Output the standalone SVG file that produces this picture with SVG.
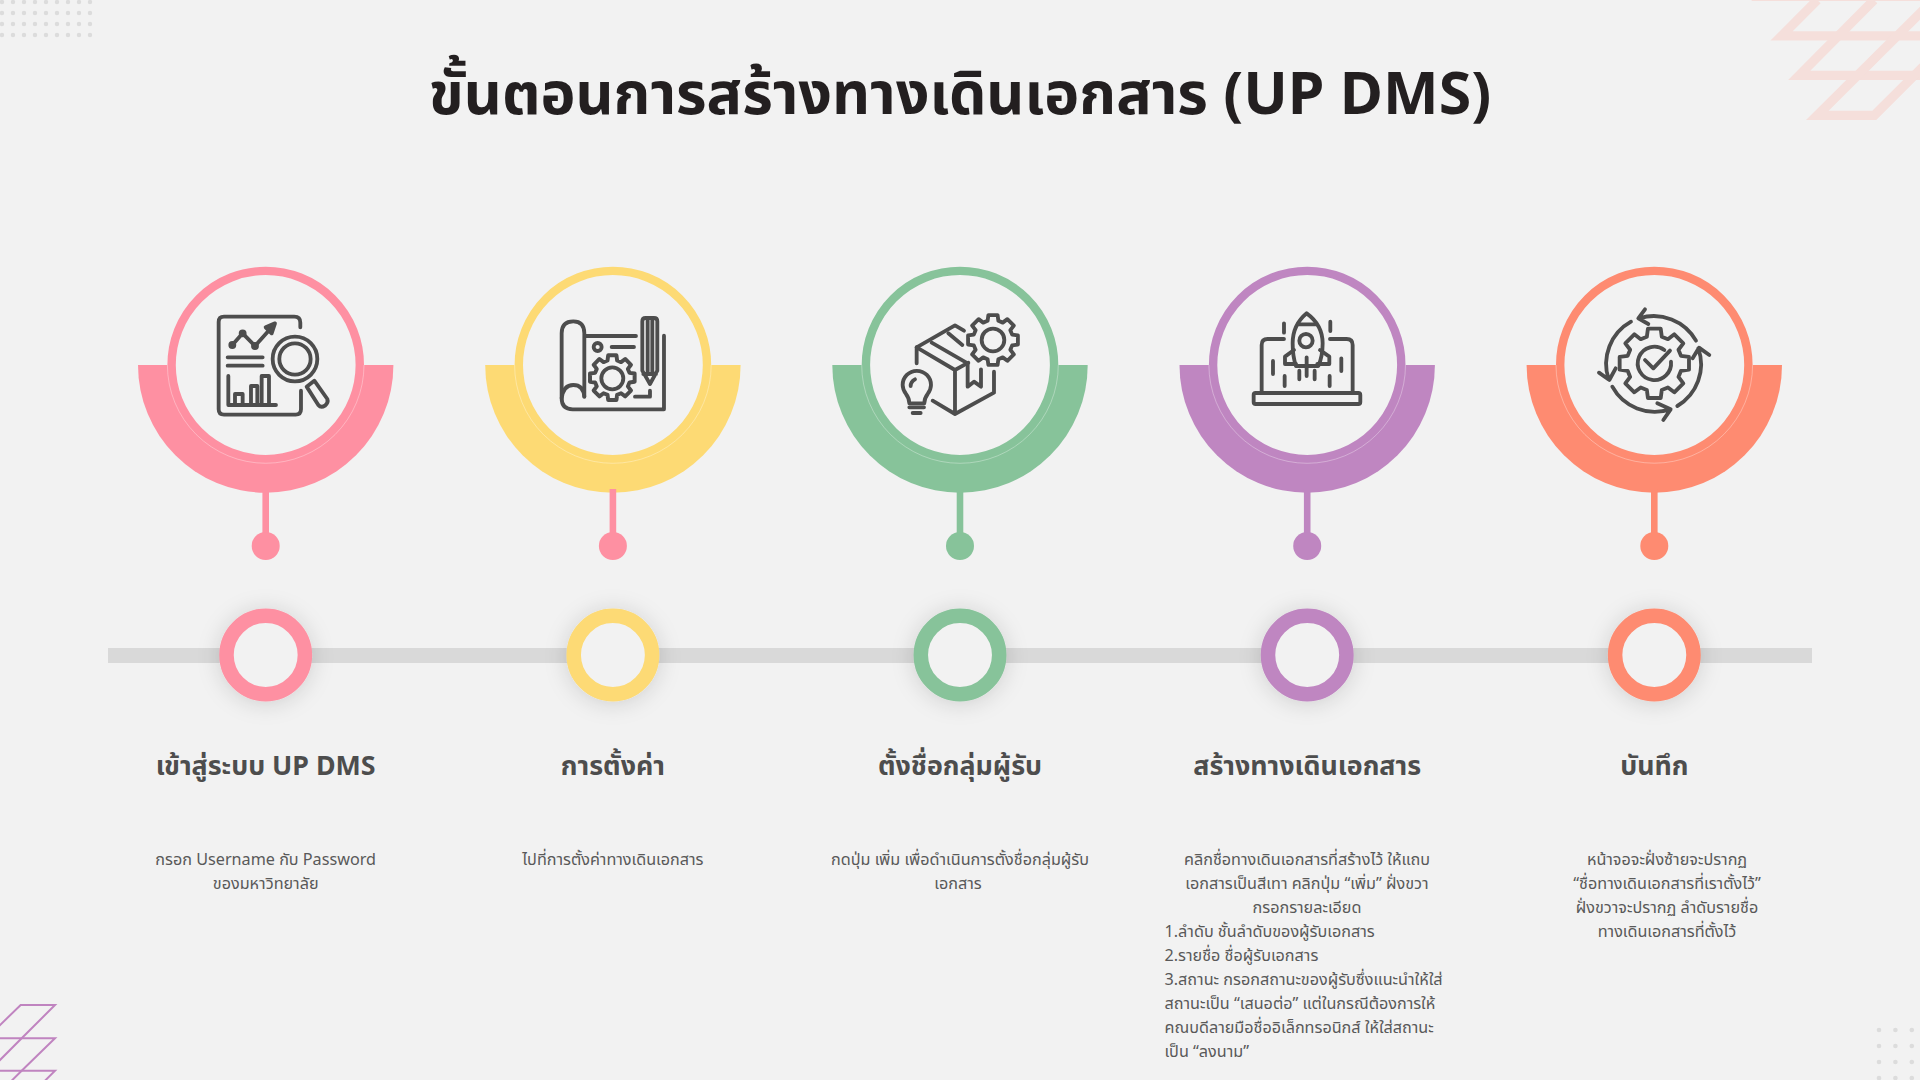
<svg xmlns="http://www.w3.org/2000/svg" xmlns:xlink="http://www.w3.org/1999/xlink" width="1920" height="1080" viewBox="0 0 1920 1080">
<style>
text{font-family:"Noto Sans","Noto Sans Thai","Noto Sans CJK SC",sans-serif}
.title{font-size:59px;font-weight:700;fill:#231f20;text-anchor:middle}
.head{font-size:26.8px;font-weight:700;fill:#4d4d4d;text-anchor:middle}
.desc{font-size:16.2px;fill:#595959;text-anchor:middle}
.left{text-anchor:start}
.ic{fill:none;stroke:#4d4d4d;stroke-width:11.5;stroke-linecap:round;stroke-linejoin:round}
.pk{fill:#fe90a2}.ye{fill:#fdda74}.gr{fill:#87c39a}.pu{fill:#bf86c1}.or{fill:#fe8b71}
.spk{stroke:#fe90a2}.sye{stroke:#fdda74}.sgr{stroke:#87c39a}.spu{stroke:#bf86c1}.sor{stroke:#fe8b71}
.ring{fill:#f2f2f2;stroke-width:8.4}
.hair{fill:none;stroke:#fff;stroke-opacity:.55;stroke-width:.6}
.stem{stroke-width:6.6;fill:none}
.mk{fill:#f2f2f2;stroke-width:14.5;filter:url(#sh)}
</style>
<defs>
<filter id="sh" x="-60%" y="-60%" width="220%" height="220%"><feDropShadow dx="0" dy="2" stdDeviation="11" flood-color="#000" flood-opacity=".15"/></filter>
<path id="gear" d="M-14,-50L-12,-65H12L14,-50L25.5,-45.3L37.5,-54.4L54.4,-37.5L45.3,-25.5L50,-14L65,-12V12L50,14L45.3,25.5L54.4,37.5L37.5,54.4L25.5,45.3L14,50L12,65H-12L-14,50L-25.5,45.3L-37.5,54.4L-54.4,37.5L-45.3,25.5L-50,14L-65,12V-12L-50,-14L-45.3,-25.5L-54.4,-37.5L-37.5,-54.4L-25.5,-45.3Z"/>
<path id="half" d="M-127.7,0A127.7,127.7 0 0 0 127.7,0Z"/>
</defs>
<rect width="1920" height="1080" fill="#f2f2f2"/>

<g id="decor">
<path d="M2,2H91M2,13H91M2,24H91M2,35H91" fill="none" stroke="#dcdcdc" stroke-width="4.4" stroke-linecap="round" stroke-dasharray="0 11"/>
<path d="M1879,1030H1915M1879,1046H1915M1879,1062H1915M1879,1078H1915" fill="none" stroke="#dcdcdc" stroke-width="4.6" stroke-linecap="round" stroke-dasharray="0 16.4"/>
<g transform="translate(1700,0) scale(.3333)" fill="none" stroke="#f5dfdb" stroke-width="28">
<path d="M155,-11H700"/>
<path d="M680,107.5H245L352,0"/>
<path d="M680,226H298L522,0"/>
<path d="M700,0L352,346H523L870,0"/>
</g>
<g transform="translate(0,980) scale(.3333)" fill="none" stroke="#c084c0" stroke-width="6">
<path d="M-5,140L62,75H165L65,175L-5,245"/>
<path d="M-5,175H165L65,272L35,302"/>
<path d="M-5,272H165L135,302"/>
</g>
</g>

<text class="title" x="960" y="114">ขั้นตอนการสร้างทางเดินเอกสาร (UP DMS)</text>

<g id="step1">
<use href="#half" x="265.7" y="365" class="pk"/>
<circle cx="265.7" cy="365" r="94.1" class="ring spk"/>
<path class="hair" d="M167.4,365A98.3,98.3 0 0 0 364,365"/>
<g class="ic" transform="translate(120,250) scale(.3333)">
<path d="M541,232V218Q541,200 523,200H312Q296,200 296,216V478Q296,494 312,494H527Q543,494 543,478V422"/>
<path d="M337,285L368,250L405,288L450,238"/>
<path d="M465,220L437,232L455,250Z" fill="#4d4d4d"/>
<circle cx="337" cy="285" r="6" fill="#4d4d4d"/><circle cx="368" cy="250" r="6" fill="#4d4d4d"/><circle cx="405" cy="288" r="6" fill="#4d4d4d"/>
<path d="M323,322H428M323,347H428"/>
<path d="M325,378V465H468M345,462V432H368V462M393,462V408H412V462M425,462V378H447V462"/>
<circle cx="525" cy="327" r="67"/><circle cx="525" cy="327" r="47"/>
<path d="M560,410L583,392L622,447Q626,458 615,467Q603,475 595,465Z"/>
</g>
</g>
<g id="step2">
<use href="#half" x="612.9" y="365" class="ye"/>
<circle cx="612.9" cy="365" r="94.1" class="ring sye"/>
<path class="hair" d="M514.6,365A98.3,98.3 0 0 0 711.2,365"/>
<g class="ic" transform="translate(470,250) scale(.3333)">
<path d="M343,440V250Q343,214 310,214Q275,214 275,250V445Q275,478 308,478H582V257"/>
<path d="M275,445Q280,405 310,405Q340,405 343,440"/>
<path d="M345,258H498M425,291H492"/>
<circle cx="383" cy="291" r="12"/>
<use href="#gear" transform="translate(427,383) scale(1.03)"/>
<circle cx="427" cy="385" r="33"/>
<path d="M517,362V214Q517,204 527,204H552Q562,204 562,214V362L540,402ZM533,207V365M547,207V365M520,372H558"/>
<path d="M495,440H540V422"/>
</g>
</g>
<g id="step3">
<use href="#half" x="960" y="365" class="gr"/>
<circle cx="960" cy="365" r="94.1" class="ring sgr"/>
<path class="hair" d="M861.7,365A98.3,98.3 0 0 0 1058.3,365"/>
<g class="ic" transform="translate(820,250) scale(.3333)">
<path d="M290,340V292L405,226L432,242"/>
<path d="M290,292L405,360V492L338,452M405,360L445,338M405,492L522,428V365"/>
<path d="M335,278L443,340M385,250L427,285"/>
<path d="M443,340V410L462,395L483,410V358"/>
<use href="#gear" transform="translate(519,270) scale(1.15)" style="stroke-width:10"/>
<circle cx="519" cy="270" r="34"/>
<path d="M268,460Q268,445 258,432Q248,418 248,405A42,42 0 0 1 333,405Q333,418 323,432Q313,445 313,460Z"/>
<path d="M268,472H312M278,489H302M272,408Q272,395 285,388"/>
</g>
</g>
<g id="step4">
<use href="#half" x="1307.2" y="365" class="pu"/>
<circle cx="1307.2" cy="365" r="94.1" class="ring spu"/>
<path class="hair" d="M1208.9,365A98.3,98.3 0 0 0 1405.5,365"/>
<g class="ic" transform="translate(1170,250) scale(.3333)">
<path d="M275,425V285Q275,267 293,267H342M480,267H530Q548,267 548,285V425"/>
<rect x="251" y="429" width="320" height="33" rx="6"/>
<path d="M410,190Q368,225 368,280Q368,320 378,348H445Q458,320 458,280Q458,225 410,190Z"/>
<path d="M385,223H437"/>
<circle cx="408" cy="272" r="20"/>
<path d="M372,300L345,320V342H378M450,300L478,320V342H442"/>
<path d="M410,322V378M388,362V388M434,362V388M342,220V248M481,215V243M309,333V372M514,325V363M344,378V408M479,378V408"/>
</g>
</g>
<g id="step5">
<use href="#half" x="1654.3" y="365" class="or"/>
<circle cx="1654.3" cy="365" r="94.1" class="ring sor"/>
<path class="hair" d="M1556,365A98.3,98.3 0 0 0 1752.6,365"/>
<g class="ic" transform="translate(1520,250) scale(.3333)">
<path d="M528,272A145,145 0 0 0 358,205M375,178L355,205L385,222"/>
<path d="M472,468A145,145 0 0 0 535,295M518,325L537,293L568,315"/>
<path d="M277,410A145,145 0 0 0 450,478M412,460L452,478L430,510"/>
<path d="M333,215A145,145 0 0 0 266,388M237,368L268,390L287,355"/>
<use href="#gear" transform="translate(403,340) scale(1.6)" style="stroke-width:7.2"/>
<path d="M433,300A50,50 0 1 0 453,335"/>
<path d="M450,302L400,355L375,330"/>
</g>
</g>

<g id="connectors">
<rect x="108" y="648" width="1704" height="15" fill="#d9d9d9"/>
<path class="stem spk" d="M265.7,489V546"/>
<path class="stem spk" d="M612.9,489V546"/>
<path class="stem sgr" d="M960,489V546"/>
<path class="stem spu" d="M1307.2,489V546"/>
<path class="stem sor" d="M1654.3,489V546"/>
</g>

<g id="step1-marker"><circle cx="265.7" cy="546" r="14" class="pk"/><circle cx="265.7" cy="655" r="39.2" class="mk spk"/></g>
<g id="step2-marker"><circle cx="612.9" cy="546" r="14" class="pk"/><circle cx="612.9" cy="655" r="39.2" class="mk sye"/></g>
<g id="step3-marker"><circle cx="960" cy="546" r="14" class="gr"/><circle cx="960" cy="655" r="39.2" class="mk sgr"/></g>
<g id="step4-marker"><circle cx="1307.2" cy="546" r="14" class="pu"/><circle cx="1307.2" cy="655" r="39.2" class="mk spu"/></g>
<g id="step5-marker"><circle cx="1654.3" cy="546" r="14" class="or"/><circle cx="1654.3" cy="655" r="39.2" class="mk sor"/></g>

<g id="step1-label">
<text class="head" x="265.7" y="775">เข้าสู่ระบบ UP DMS</text>
<text class="desc" x="265.7" y="865.4">กรอก Username กับ Password</text>
<text class="desc" x="265.7" y="889.4">ของมหาวิทยาลัย</text>
</g>
<g id="step2-label">
<text class="head" x="612.9" y="775">การตั้งค่า</text>
<text class="desc" x="612.9" y="865.4">ไปที่การตั้งค่าทางเดินเอกสาร</text>
</g>
<g id="step3-label">
<text class="head" x="960" y="775">ตั้งชื่อกลุ่มผู้รับ</text>
<text class="desc" x="960" y="865.4">กดปุ่ม เพิ่ม เพื่อดำเนินการตั้งชื่อกลุ่มผู้รับ</text>
<text class="desc" x="958" y="889.4">เอกสาร</text>
</g>
<g id="step4-label">
<text class="head" x="1307.2" y="775">สร้างทางเดินเอกสาร</text>
<text class="desc" x="1307" y="865.4">คลิกชื่อทางเดินเอกสารที่สร้างไว้ ให้แถบ</text>
<text class="desc" x="1307" y="889.4">เอกสารเป็นสีเทา คลิกปุ่ม “เพิ่ม” ฝั่งขวา</text>
<text class="desc" x="1307" y="913.4">กรอกรายละเอียด</text>
<text class="desc left" x="1164.5" y="937.4">1.ลำดับ ชั้นลำดับของผู้รับเอกสาร</text>
<text class="desc left" x="1164.5" y="961.4">2.รายชื่อ ชื่อผู้รับเอกสาร</text>
<text class="desc left" x="1164.5" y="985.4">3.สถานะ กรอกสถานะของผู้รับซึ่งแนะนำให้ใส่</text>
<text class="desc left" x="1164.5" y="1009.4">สถานะเป็น “เสนอต่อ” แต่ในกรณีต้องการให้</text>
<text class="desc left" x="1164.5" y="1033.4">คณบดีลายมือชื่ออิเล็กทรอนิกส์ ให้ใส่สถานะ</text>
<text class="desc left" x="1164.5" y="1057.4">เป็น “ลงนาม”</text>
</g>
<g id="step5-label">
<text class="head" x="1654.3" y="775">บันทึก</text>
<text class="desc" x="1667" y="865.4">หน้าจอจะฝั่งซ้ายจะปรากฏ</text>
<text class="desc" x="1667" y="889.4">“ชื่อทางเดินเอกสารที่เราตั้งไว้”</text>
<text class="desc" x="1667" y="913.4">ฝั่งขวาจะปรากฏ ลำดับรายชื่อ</text>
<text class="desc" x="1667" y="937.4">ทางเดินเอกสารที่ตั้งไว้</text>
</g>
</svg>
